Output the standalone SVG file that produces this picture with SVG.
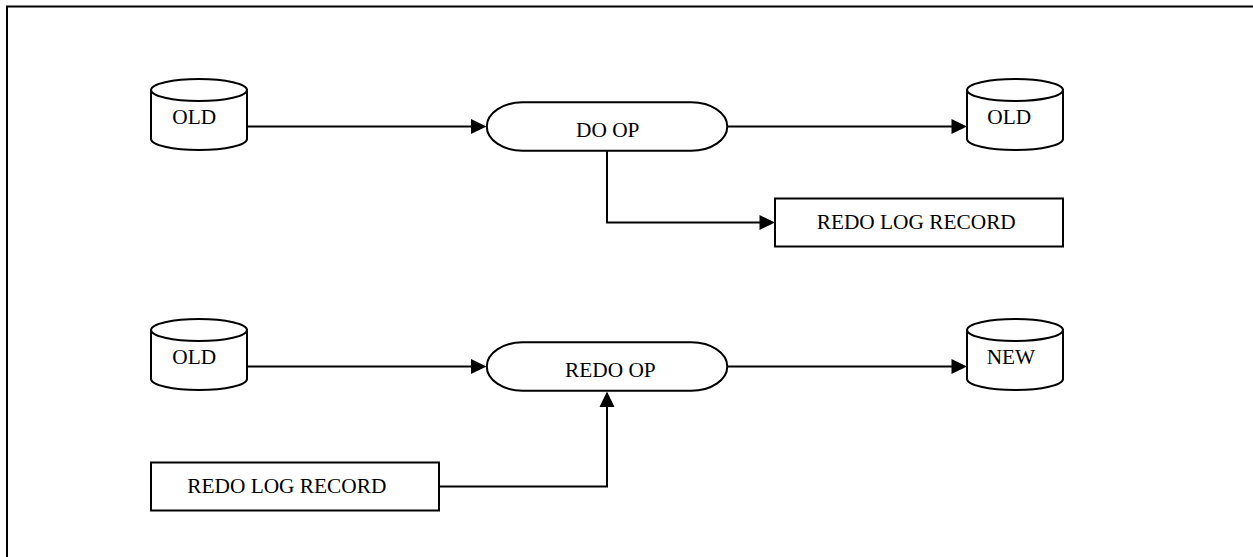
<svg xmlns="http://www.w3.org/2000/svg" width="1253" height="557" viewBox="0 0 1253 557">
  <style>
    .s { fill: #fff; stroke: #000; stroke-width: 2; }
    .o { fill: none; stroke: #000; stroke-width: 2; }
    .h { fill: #000; stroke: none; }
    text { font-family: "Liberation Serif", "Times New Roman", serif; font-size: 21.33px; fill: #000; }
  </style>
  <defs>
    <g id="cyl">
      <path class="s" d="M0 11.5 V60.5 C0 66.5 21.5 71.5 48 71.5 C74.5 71.5 96 66.5 96 60.5 V11.5 Z"/>
      <ellipse class="s" cx="48" cy="11.5" rx="48" ry="11"/>
    </g>
    <rect id="pill" class="s" x="0" y="0" width="240.5" height="48.5" rx="36" ry="24.25"/>
  </defs>
  <rect width="1253" height="557" fill="#fff"/>
  <path id="frame" class="o" d="M1253 6.5 H7 V557"/>
  <g id="connectors">
    <path class="o" d="M247 126.5 H472"/>
    <path class="h" d="M486.5 126.5 L471 119 V134 Z"/>
    <path class="o" d="M727 126.5 H953"/>
    <path class="h" d="M967 126.5 L951.5 119 V134 Z"/>
    <path class="o" d="M607 151 V222.5 H760"/>
    <path class="h" d="M775 222.5 L759.5 215 V230 Z"/>
    <path class="o" d="M247 366.5 H472"/>
    <path class="h" d="M486.5 366.5 L471 359 V374 Z"/>
    <path class="o" d="M727 366.5 H953"/>
    <path class="h" d="M967 366.5 L951.5 359 V374 Z"/>
    <path class="o" d="M439 486.5 H607 V406"/>
    <path class="h" d="M607 391.5 L599.5 407 H614.5 Z"/>
  </g>
  <g id="old-top-left"><use href="#cyl" x="151" y="78.5"/><text x="172.3" y="124.3">OLD</text></g>
  <g id="do-op"><use href="#pill" x="486.8" y="102.3"/><text x="576" y="137.3">DO OP</text></g>
  <g id="old-top-right"><use href="#cyl" x="967" y="78.5"/><text x="987.3" y="124.3">OLD</text></g>
  <g id="redo-record-top"><rect class="s" x="775" y="198.5" width="288" height="48"/><text x="816.7" y="229.3">REDO LOG RECORD</text></g>
  <g id="old-bottom-left"><use href="#cyl" x="151" y="318.5"/><text x="172.3" y="364.3">OLD</text></g>
  <g id="redo-op"><use href="#pill" x="486.8" y="342.3"/><text x="565" y="376.7">REDO OP</text></g>
  <g id="new"><use href="#cyl" x="967" y="318.5"/><text x="986.7" y="364.3">NEW</text></g>
  <g id="redo-record-bottom"><rect class="s" x="151" y="462.5" width="288" height="48"/><text x="187.3" y="493.3">REDO LOG RECORD</text></g>
</svg>
